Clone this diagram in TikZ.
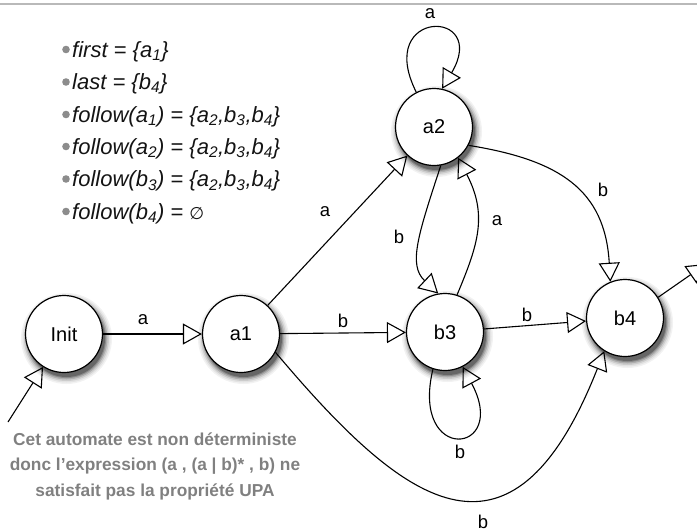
\documentclass[tikz,border=0pt]{standalone}
\usepackage{fontspec}
\setmainfont{Liberation Sans}
\newfontfamily\djv{DejaVu Sans}
\usetikzlibrary{arrows.meta}
\definecolor{bgray}{gray}{0.55}
\definecolor{tgray}{gray}{0.5}
\definecolor{ink}{gray}{0.08}
\begin{document}
\begin{tikzpicture}[x=1pt,y=-1pt,
  state/.style={circle, draw, line width=1.2pt, fill=white, minimum size=77pt, inner sep=0pt,
    font=\fontsize{20}{22}\selectfont},
  edge/.style={line width=1.1pt, -{Triangle[open, length=19pt, width=21pt, line width=1.1pt]}},
  lbl/.style={font=\fontsize{18.5}{20}\selectfont, inner sep=0pt},
  item/.style={anchor=base west, inner sep=0pt, text=ink, font=\fontsize{22}{24}\selectfont\itshape},
  note/.style={align=center, text=tgray, font=\fontsize{17.3}{25.5}\selectfont\bfseries}]
\path[use as bounding box] (0,0) rectangle (697,531);
\clip (0,0) rectangle (697,531);
\draw[gray!55, line width=1.5pt] (0,4) -- (697,4);

% list
\node[item] (l1) at (72,57)  {first = \{a\textsubscript{1}\}};
\node[item] (l2) at (72,89.5) {last = \{b\textsubscript{4}\}};
\node[item] (l3) at (72,122) {follow(a\textsubscript{1}) = \{a\textsubscript{2},b\textsubscript{3},b\textsubscript{4}\}};
\node[item] (l4) at (72,154) {follow(a\textsubscript{2}) = \{a\textsubscript{2},b\textsubscript{3},b\textsubscript{4}\}};
\node[item] (l5) at (72,186.5) {follow(b\textsubscript{3}) = \{a\textsubscript{2},b\textsubscript{3},b\textsubscript{4}\}};
\node[item] (l6) at (72,219) {follow(b\textsubscript{4}) = {\djv\fontsize{17}{20}\selectfont ∅}};
\foreach \yy in {57,89.5,122,154,186.5,219} \fill[bgray] (66,\yy-7.5) circle (3.8pt);

% positions
\coordinate (pinit) at (64,334);
\coordinate (pa1) at (241,334);
\coordinate (pa2) at (434,127);
\coordinate (pb3) at (445,332);
\coordinate (pb4) at (625,318);

% shadows
\foreach \p in {pinit,pa1,pa2,pb3,pb4} {
  \fill[black!5]  ([shift={(2.5,4.5)}]\p) circle (45.5pt);
  \fill[black!11] ([shift={(2.5,4.5)}]\p) circle (44pt);
  \fill[black!20] ([shift={(2.5,4.5)}]\p) circle (42.5pt);
  \fill[black!32] ([shift={(2.5,4.5)}]\p) circle (41pt);
  \fill[black!46] ([shift={(2.5,4.5)}]\p) circle (39.6pt);
  \fill[black!60] ([shift={(2.5,4.5)}]\p) circle (38.5pt);
}

% states
\node[state] (init) at (pinit) {Init};
\node[state] (a1) at (pa1) {a1};
\node[state] (a2) at (pa2) {a2};
\node[state] (b3) at (pb3) {b3};
\node[state] (b4) at (pb4) {b4};

\coordinate (start) at (8,422);
\coordinate (fin) at (706,264);

\draw[edge] (start) -- (init);
\draw[edge] (init) -- (a1);
\draw[edge] (a1) -- (a2);
\draw[edge] (a1) -- (b3);
\draw[edge] (b3) -- (b4);
\draw[edge] (a1.-28) .. controls (400,500) and (510,590) .. (b4.-122);
\draw[edge] (a2.117) .. controls (374,8) and (490,8) .. (a2.78);
\draw[edge] (b3.-108) .. controls (410,465) and (510,455) .. (b3.-63);
\draw[edge] (a2.-80) .. controls (418,235) and (408,265) .. (b3.100);
\draw[edge] (b3.72) .. controls (478,245) and (488,215) .. (a2.-52);
\draw[edge] (a2.-28) .. controls (560,160) and (605,190) .. (b4.112);
\draw[edge] (b4.32) -- (fin);

% labels
\node[lbl] (la1) at (143,320) {a};
\node[lbl] (la2) at (325,212) {a};
\node[lbl] (lb1) at (343,321) {b};
\node[lbl] (lb2) at (527,315) {b};
\node[lbl] (lb3) at (483,522) {b};
\node[lbl] (lb4) at (460,452) {b};
\node[lbl] (la3) at (430,14) {a};
\node[lbl] (lb5) at (399,237) {b};
\node[lbl] (la4) at (497,221) {a};
\node[lbl] (lb6) at (603,190) {b};

% note
\node[note] (nt) at (155,466) {Cet automate est non déterministe\\donc l’expression (a , (a | b)* , b) ne\\satisfait pas la propriété UPA};
\end{tikzpicture}
\end{document}
